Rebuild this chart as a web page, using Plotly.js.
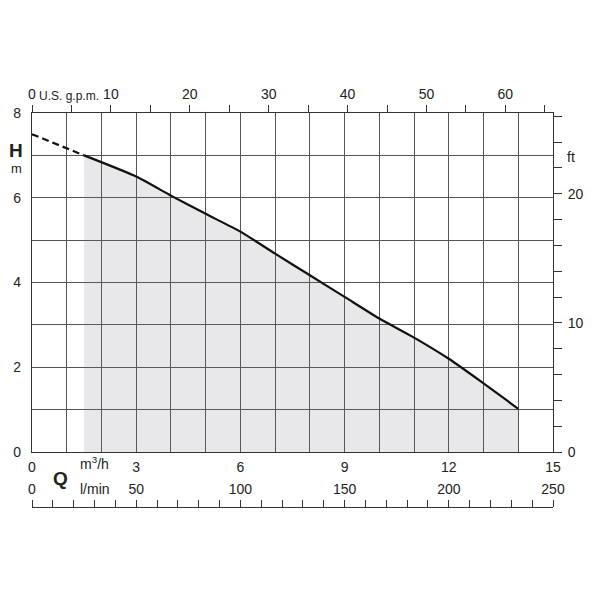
<!DOCTYPE html>
<html>
<head>
<meta charset="utf-8">
<script src="https://cdn.plot.ly/plotly-3.0.1.min.js"></script>
<style>html,body{margin:0;padding:0;background:#fff;}#chart{width:600px;height:600px;}</style>
</head>
<body>
<div id="chart"></div>
<script>
// Pump curve data (Q in m3/h, H in m)
const flowQ = [0, 1.5, 3, 4, 5, 6, 7, 8, 9, 10, 11, 12, 13, 14];
const headH = [7.5, 7.0, 6.5, 6.05, 5.62, 5.2, 4.68, 4.17, 3.66, 3.15, 2.7, 2.2, 1.62, 1.02];
const dashEnd = 1; // index where the dashed part ends and working range starts

// Tick labels
const qTicks = [0, 3, 6, 9, 12, 15];
const hTicks = [0, 2, 4, 6, 8];
const gpmTicks = [0, 10, 20, 30, 40, 50, 60];
const lpmTicks = [0, 50, 100, 150, 200, 250];
const ftTicks = [0, 10, 20];

const qMax = 15, hMax = 8;
const GPM_PER_M3H = 4.40287, LPM_PER_M3H = 1000 / 60, FT_PER_M = 1 / 0.3048;

const dashQ = flowQ.slice(0, dashEnd + 1), dashH = headH.slice(0, dashEnd + 1);
const workQ = flowQ.slice(dashEnd), workH = headH.slice(dashEnd);

const ink = '#222222', grid = '#555555';
const FONT = 'Liberation Sans, Arial, sans-serif';

const traces = [
  {x: workQ, y: workH, xaxis: 'x', yaxis: 'y', mode: 'lines', fill: 'tozeroy',
   fillcolor: 'rgba(110,110,130,0.16)', line: {color: '#111', width: 2.2, shape: 'spline', smoothing: 0.6}, hoverinfo: 'skip'},
  {x: dashQ, y: dashH, xaxis: 'x', yaxis: 'y', mode: 'lines',
   line: {color: '#111', width: 2.2, dash: '7px,4px'}, hoverinfo: 'skip'},
  // carriers for secondary scales (no visible marks)
  {x: [0, qMax * GPM_PER_M3H], y: [0, 0], xaxis: 'x2', yaxis: 'y', mode: 'lines', line: {width: 0}, opacity: 0, hoverinfo: 'skip'},
  {x: [0, qMax * LPM_PER_M3H], y: [0, 0], xaxis: 'x3', yaxis: 'y', mode: 'lines', line: {width: 0}, opacity: 0, hoverinfo: 'skip'},
  {x: [0, qMax], y: [0, hMax * FT_PER_M], xaxis: 'x', yaxis: 'y2', mode: 'lines', line: {width: 0}, opacity: 0, hoverinfo: 'skip'}
];

const M = {l: 32, r: 47, t: 113, b: 93};
const PW = 600 - M.l - M.r, PH = 600 - M.t - M.b;
const plotBottomPx = 452;
const yDom0 = (600 - M.b - plotBottomPx) / PH;
const px = p => (p - M.l) / PW;
const py = p => (600 - M.b - p) / PH;

const tickFont = {family: FONT, size: 14, color: ink};

const layout = {
  width: 600, height: 600,
  margin: M,
  paper_bgcolor: '#fff', plot_bgcolor: '#fff',
  showlegend: false,
  xaxis: {
    range: [0, qMax], domain: [0, 1], anchor: 'y',
    tickvals: qTicks, ticktext: qTicks.map(String), ticks: '',
    showgrid: true, gridcolor: grid, gridwidth: 1,
    minor: {dtick: 1, showgrid: true, gridcolor: grid, gridwidth: 1},
    showline: true, linecolor: '#333', linewidth: 1.2, mirror: true,
    zeroline: false, tickfont: tickFont, ticklabelstandoff: 2
  },
  yaxis: {
    range: [0, hMax], domain: [yDom0, 1], anchor: 'x',
    tickvals: hTicks, ticktext: hTicks.map(String), ticks: '',
    showgrid: true, gridcolor: grid, gridwidth: 1,
    minor: {dtick: 1, showgrid: true, gridcolor: grid, gridwidth: 1},
    showline: true, linecolor: '#333', linewidth: 1.2, mirror: true,
    zeroline: false, tickfont: tickFont, ticklabelstandoff: 7
  },
  xaxis2: {
    overlaying: 'x', side: 'top', anchor: 'y',
    range: [0, qMax * GPM_PER_M3H],
    tickvals: gpmTicks, ticktext: gpmTicks.map(String),
    ticks: 'outside', ticklen: 7, tickcolor: '#333', tickwidth: 1,
    minor: {dtick: 5, ticks: 'outside', ticklen: 7, tickcolor: '#333', showgrid: false},
    showgrid: false, zeroline: false, showline: false, tickfont: tickFont
  },
  xaxis3: {
    overlaying: 'x', side: 'top', anchor: 'free', position: 0,
    range: [0, qMax * LPM_PER_M3H],
    tickvals: lpmTicks, ticktext: lpmTicks.map(String),
    ticks: 'outside', ticklen: 7, tickcolor: '#333', tickwidth: 1,
    minor: {dtick: 10, ticks: 'outside', ticklen: 7, tickcolor: '#333', showgrid: false},
    showgrid: false, zeroline: false, showline: true, linecolor: '#333', linewidth: 1.2,
    tickfont: tickFont
  },
  yaxis2: {
    overlaying: 'y', side: 'right', anchor: 'x',
    range: [0, hMax * FT_PER_M],
    tickvals: ftTicks, ticktext: ftTicks.map(String),
    ticks: 'outside', ticklen: 8, tickcolor: '#333', tickwidth: 1,
    minor: {dtick: 2, ticks: 'outside', ticklen: 8, tickcolor: '#333', showgrid: false},
    showgrid: false, zeroline: false, showline: false, tickfont: tickFont,
    ticklabelstandoff: 3
  },
  annotations: [
    {text: '<b>H</b>', x: px(16), y: py(150), font: {family: FONT, size: 19, color: ink}},
    {text: 'm', x: px(16), y: py(168), font: {family: FONT, size: 13, color: ink}},
    {text: 'ft', x: px(571), y: py(157), font: {family: FONT, size: 14, color: ink}},
    {text: 'U.S. g.p.m.', x: px(37), y: py(96), xanchor: 'left', font: {family: FONT, size: 12, color: ink}},
    {text: 'm<sup>3</sup>/h', x: px(78), y: py(463), xanchor: 'left', font: {family: FONT, size: 14, color: ink}},
    {text: '<b>Q</b>', x: px(60), y: py(478), font: {family: FONT, size: 19, color: ink}},
    {text: 'l/min', x: px(78), y: py(489), xanchor: 'left', font: {family: FONT, size: 14, color: ink}}
  ].map(a => Object.assign({xref: 'paper', yref: 'paper', showarrow: false, yanchor: 'middle', xanchor: a.xanchor || 'center'}, a))
};

Plotly.newPlot('chart', traces, layout, {staticPlot: true, displayModeBar: false});
</script>
</body>
</html>
